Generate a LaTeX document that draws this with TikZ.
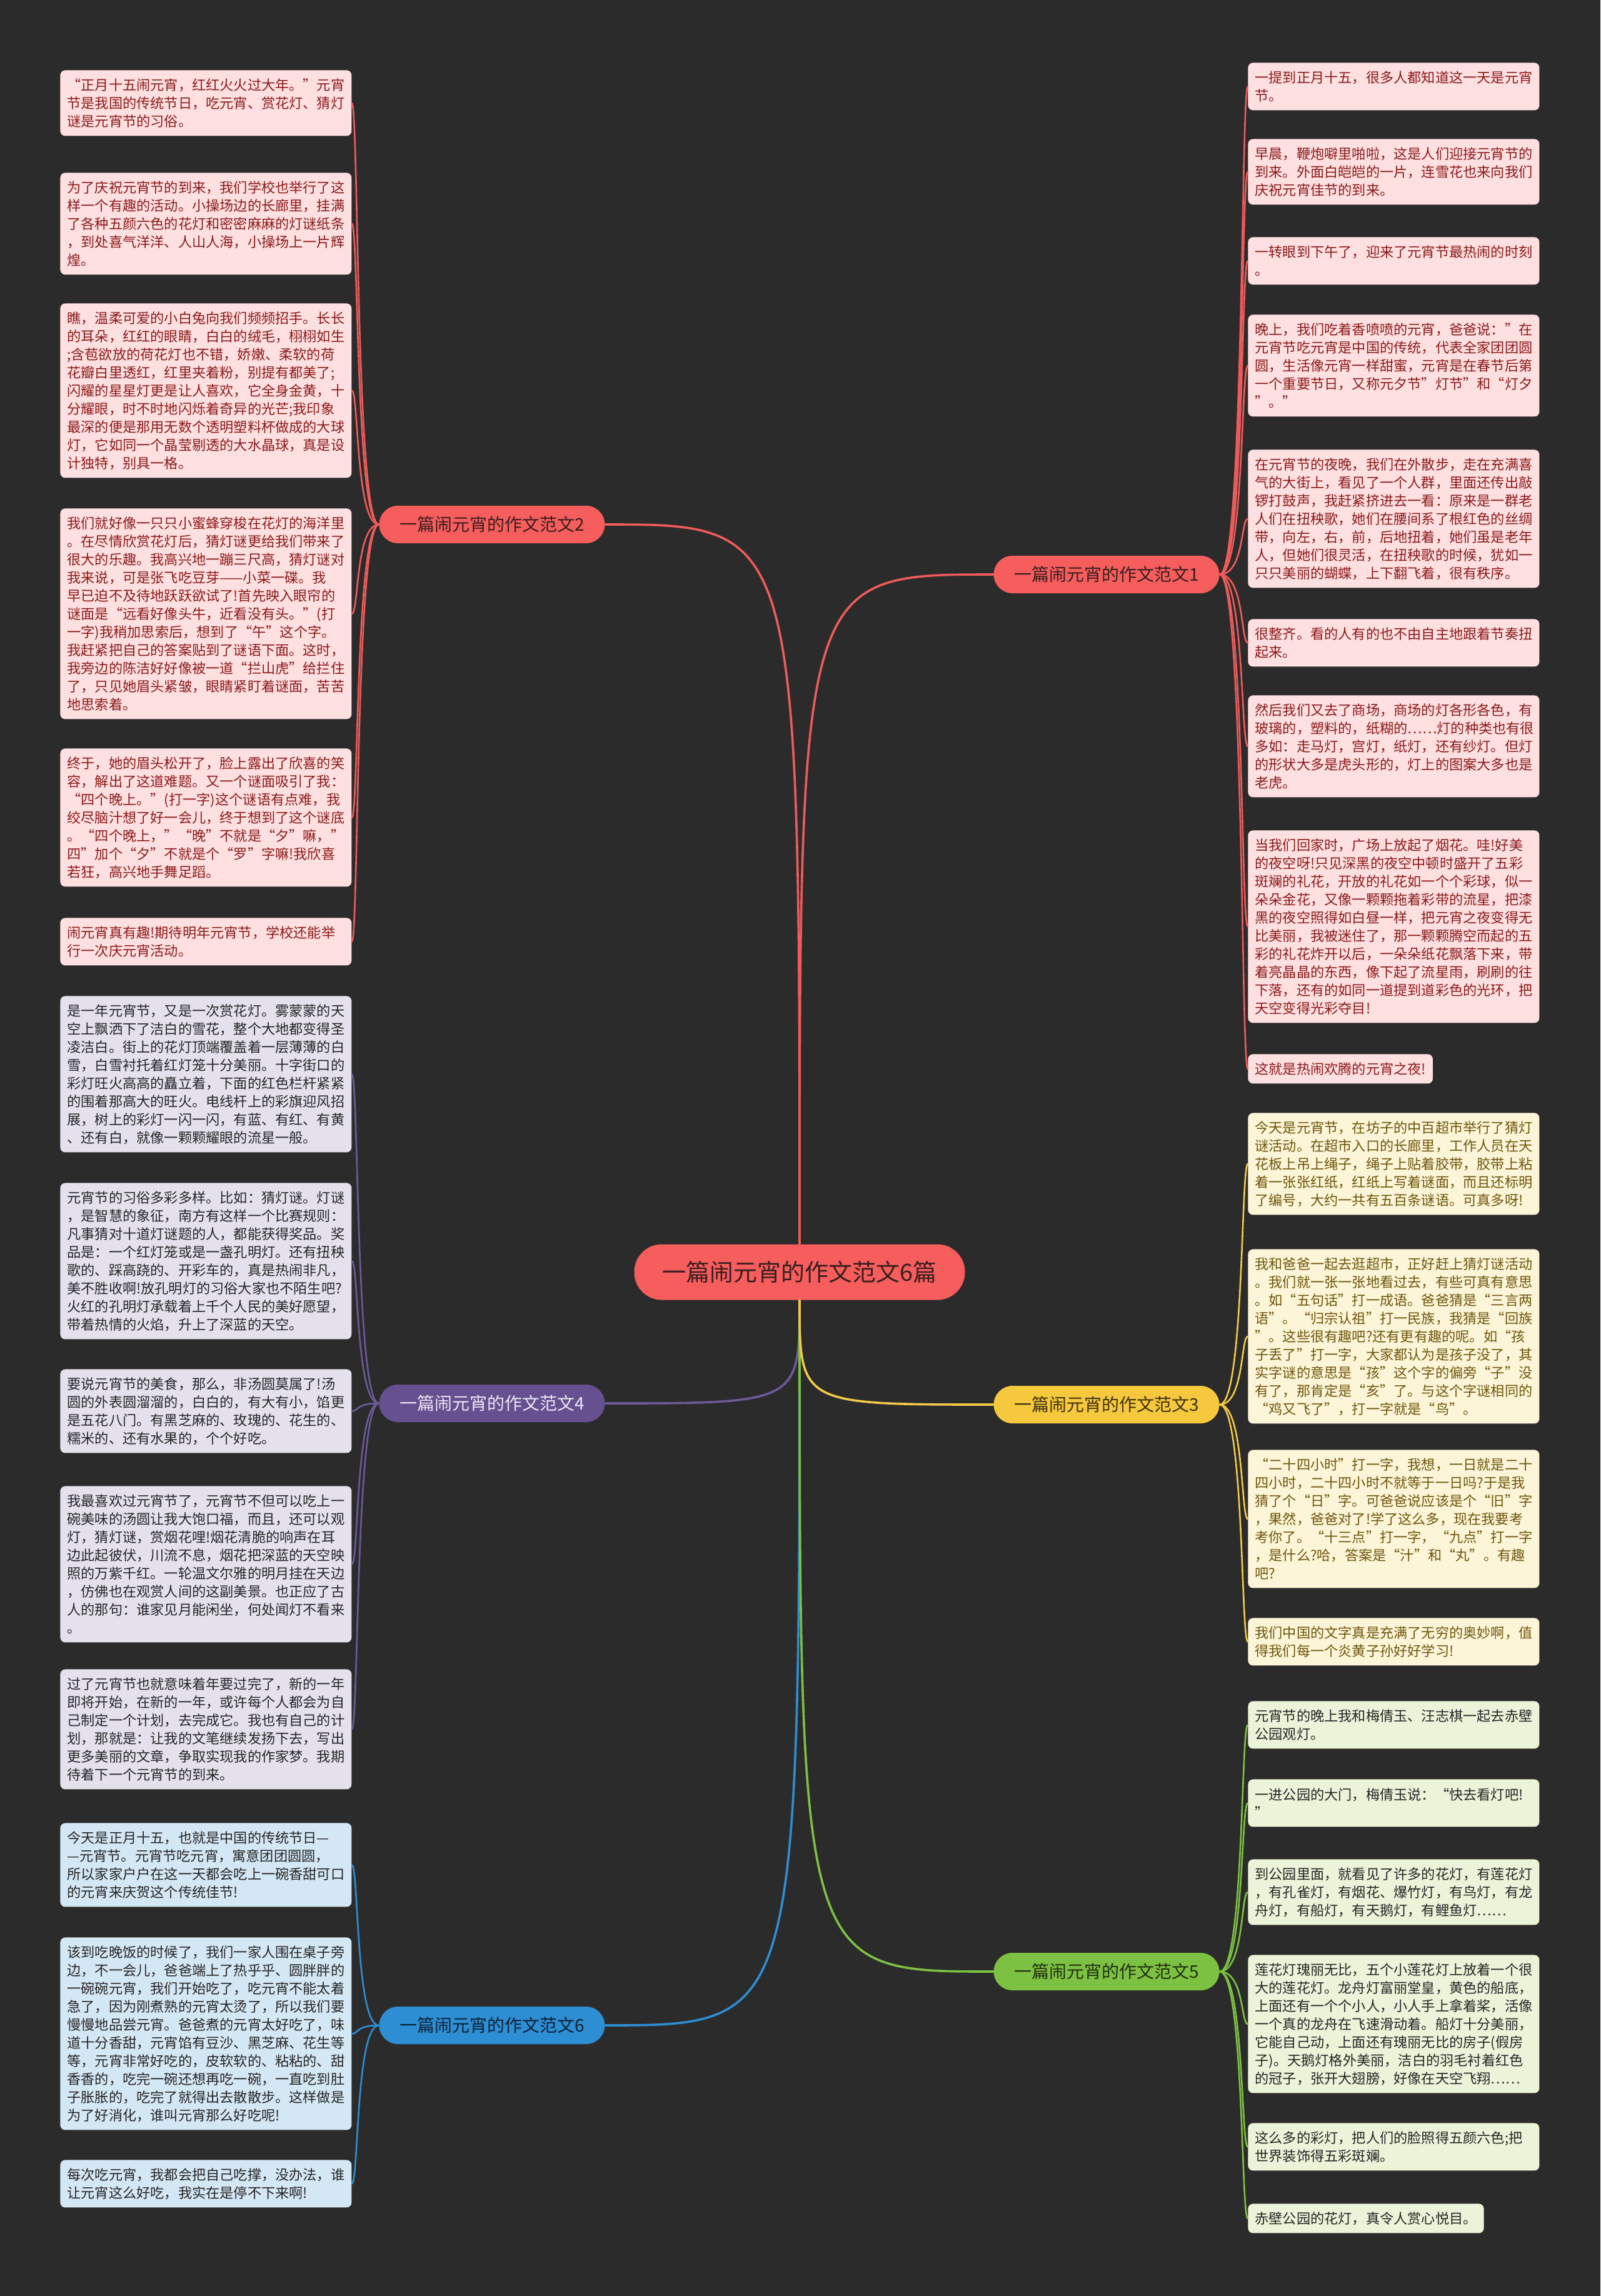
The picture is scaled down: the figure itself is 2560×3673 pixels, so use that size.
\documentclass[tikz,border=0pt]{standalone}
\usepackage{fontspec}
\setmainfont{Noto Sans CJK SC}
\usetikzlibrary{calc}
\definecolor{bgc}{HTML}{2B2B2B}
\definecolor{redn}{HTML}{F65D5D}
\definecolor{redl}{HTML}{EE5B5B}
\definecolor{redt}{HTML}{3A1E1E}
\definecolor{pinkf}{HTML}{FFE0E1}
\definecolor{pinkt}{HTML}{8B1A1A}
\definecolor{yeln}{HTML}{F6C83E}
\definecolor{yell}{HTML}{F2C94A}
\definecolor{yelt}{HTML}{3F320A}
\definecolor{creamf}{HTML}{FDF5D7}
\definecolor{creamt}{HTML}{6E560E}
\definecolor{grnn}{HTML}{7DC142}
\definecolor{grnl}{HTML}{7DC142}
\definecolor{grnt}{HTML}{22300F}
\definecolor{grnf}{HTML}{EBF3D8}
\definecolor{purn}{HTML}{66508F}
\definecolor{purl}{HTML}{6C5A99}
\definecolor{purt}{HTML}{ECE6F6}
\definecolor{lavf}{HTML}{E4E1ED}
\definecolor{blun}{HTML}{2D8ED4}
\definecolor{blul}{HTML}{2D8ED4}
\definecolor{blut}{HTML}{0E2238}
\definecolor{bluf}{HTML}{D4E7F4}
\definecolor{darkt}{HTML}{262626}
\tikzset{
  rootnode/.style={fill=redn, text=redt, rounded corners=22pt, minimum width=264.5pt,
    minimum height=44.5pt, inner sep=0pt, font=\fontsize{19}{22}\selectfont},
  branchnode/.style={rounded corners=15pt, minimum width=180.5pt, minimum height=30pt,
    inner sep=0pt, font=\fontsize{14}{16}\selectfont},
  leafbase/.style={rounded corners=4pt, inner xsep=5.5pt, inner ysep=0pt, align=left,
    font=\fontsize{11.1}{14.5}\selectfont, anchor=north west},
  lf/.style={leafbase, text width=222pt, minimum height={(29*#1+18)*0.5pt}},
  lfn/.style={leafbase, minimum height={(29*#1+18)*0.5pt}},
  pinkbox/.style={fill=pinkf, text=pinkt},
  lavbox/.style={fill=lavf, text=darkt},
  blubox/.style={fill=bluf, text=darkt},
  crmbox/.style={fill=creamf, text=creamt},
  grnbox/.style={fill=grnf, text=darkt},
  mainlink/.style={line width=1.8pt, line cap=round},
  leaflink/.style={line width=1.3pt, line cap=round}
}
\begin{document}
\begin{tikzpicture}[x=0.5pt,y=-0.5pt]
\useasboundingbox (0,0) rectangle (2560,3673);
\fill[bgc] (0,0) rectangle (2560,3673);

% root and branches
\node[rootnode] (c) at (1279,2035) {一篇闹元宵的作文范文6篇};
\node[branchnode, fill=redn, text=redt] (b1) at (1770,919) {一篇闹元宵的作文范文1};
\node[branchnode, fill=redn, text=redt] (b2) at (787,839) {一篇闹元宵的作文范文2};
\node[branchnode, fill=yeln, text=yelt] (b3) at (1770,2247) {一篇闹元宵的作文范文3};
\node[branchnode, fill=purn, text=purt] (b4) at (787,2245) {一篇闹元宵的作文范文4};
\node[branchnode, fill=grnn, text=grnt] (b5) at (1770,3154) {一篇闹元宵的作文范文5};
\node[branchnode, fill=blun, text=blut] (b6) at (787,3240) {一篇闹元宵的作文范文6};

\draw[mainlink, redl] (c.north) .. controls (c.north |- b1.west) and (c.north |- b1.west) .. (b1.west);
\draw[mainlink, redl] (c.north) .. controls (c.north |- b2.east) and (c.north |- b2.east) .. (b2.east);
\draw[mainlink, purl] (c.south) .. controls (c.south |- b4.east) and (c.south |- b4.east) .. (b4.east);
\draw[mainlink, blul] (c.south) .. controls (c.south |- b6.east) and (c.south |- b6.east) .. (b6.east);
\draw[mainlink, grnl] (c.south) .. controls (c.south |- b5.west) and (c.south |- b5.west) .. (b5.west);
\draw[mainlink, yell] (c.south) .. controls (c.south |- b3.west) and (c.south |- b3.west) .. (b3.west);

% ---------- left: branch 2 ----------
\node[lf=3, pinkbox] (l1) at (96,112) {“正月十五闹元宵，红红火火过大年。”元宵\\节是我国的传统节日，吃元宵、赏花灯、猜灯\\谜是元宵节的习俗。};
\node[lf=5, pinkbox] (l2) at (96,276) {为了庆祝元宵节的到来，我们学校也举行了这\\样一个有趣的活动。小操场边的长廊里，挂满\\了各种五颜六色的花灯和密密麻麻的灯谜纸条\\，到处喜气洋洋、人山人海，小操场上一片辉\\煌。};
\node[lf=9, pinkbox] (l3) at (96,485) {瞧，温柔可爱的小白兔向我们频频招手。长长\\的耳朵，红红的眼睛，白白的绒毛，栩栩如生\\;含苞欲放的荷花灯也不错，娇嫩、柔软的荷\\花瓣白里透红，红里夹着粉，别提有都美了;\\闪耀的星星灯更是让人喜欢，它全身金黄，十\\分耀眼，时不时地闪烁着奇异的光芒;我印象\\最深的便是那用无数个透明塑料杯做成的大球\\灯，它如同一个晶莹剔透的大水晶球，真是设\\计独特，别具一格。};
\node[lf=11, pinkbox] (l4) at (96,813) {我们就好像一只只小蜜蜂穿梭在花灯的海洋里\\。在尽情欣赏花灯后，猜灯谜更给我们带来了\\很大的乐趣。我高兴地一蹦三尺高，猜灯谜对\\我来说，可是张飞吃豆芽——小菜一碟。我\\早已迫不及待地跃跃欲试了!首先映入眼帘的\\谜面是“远看好像头牛，近看没有头。”(打\\一字)我稍加思索后，想到了“午”这个字。\\我赶紧把自己的答案贴到了谜语下面。这时，\\我旁边的陈洁好好像被一道“拦山虎”给拦住\\了，只见她眉头紧皱，眼睛紧盯着谜面，苦苦\\地思索着。};
\node[lf=7, pinkbox] (l5) at (96,1197) {终于，她的眉头松开了，脸上露出了欣喜的笑\\容，解出了这道难题。又一个谜面吸引了我：\\“四个晚上。”(打一字)这个谜语有点难，我\\绞尽脑汁想了好一会儿，终于想到了这个谜底\\。“四个晚上，”“晚”不就是“夕”嘛，”\\四”加个“夕”不就是个“罗”字嘛!我欣喜\\若狂，高兴地手舞足蹈。};
\node[lf=2, pinkbox] (l6) at (96,1468) {闹元宵真有趣!期待明年元宵节，学校还能举\\行一次庆元宵活动。};

% ---------- left: branch 4 ----------
\node[lf=8, lavbox] (l7) at (96,1593) {是一年元宵节，又是一次赏花灯。雾蒙蒙的天\\空上飘洒下了洁白的雪花，整个大地都变得圣\\凌洁白。街上的花灯顶端覆盖着一层薄薄的白\\雪，白雪衬托着红灯笼十分美丽。十字街口的\\彩灯旺火高高的矗立着，下面的红色栏杆紧紧\\的围着那高大的旺火。电线杆上的彩旗迎风招\\展，树上的彩灯一闪一闪，有蓝、有红、有黄\\、还有白，就像一颗颗耀眼的流星一般。};
\node[lf=8, lavbox] (l8) at (96,1892) {元宵节的习俗多彩多样。比如：猜灯谜。灯谜\\，是智慧的象征，南方有这样一个比赛规则：\\凡事猜对十道灯谜题的人，都能获得奖品。奖\\品是：一个红灯笼或是一盏孔明灯。还有扭秧\\歌的、踩高跷的、开彩车的，真是热闹非凡，\\美不胜收啊!放孔明灯的习俗大家也不陌生吧?\\火红的孔明灯承载着上千个人民的美好愿望，\\带着热情的火焰，升上了深蓝的天空。};
\node[lf=4, lavbox] (l9) at (96,2190) {要说元宵节的美食，那么，非汤圆莫属了!汤\\圆的外表圆溜溜的，白白的，有大有小，馅更\\是五花八门。有黑芝麻的、玫瑰的、花生的、\\糯米的、还有水果的，个个好吃。};
\node[lf=8, lavbox] (l10) at (96,2377) {我最喜欢过元宵节了，元宵节不但可以吃上一\\碗美味的汤圆让我大饱口福，而且，还可以观\\灯，猜灯谜，赏烟花哩!烟花清脆的响声在耳\\边此起彼伏，川流不息，烟花把深蓝的天空映\\照的万紫千红。一轮温文尔雅的明月挂在天边\\，仿佛也在观赏人间的这副美景。也正应了古\\人的那句：谁家见月能闲坐，何处闻灯不看来\\。};
\node[lf=6, lavbox] (l11) at (96,2670) {过了元宵节也就意味着年要过完了，新的一年\\即将开始，在新的一年，或许每个人都会为自\\己制定一个计划，去完成它。我也有自己的计\\划，那就是：让我的文笔继续发扬下去，写出\\更多美丽的文章，争取实现我的作家梦。我期\\待着下一个元宵节的到来。};

% ---------- left: branch 6 ----------
\node[lf=4, blubox] (l12) at (96,2916) {今天是正月十五，也就是中国的传统节日—\\—元宵节。元宵节吃元宵，寓意团团圆圆，\\所以家家户户在这一天都会吃上一碗香甜可口\\的元宵来庆贺这个传统佳节!};
\node[lf=10, blubox] (l13) at (96,3099) {该到吃晚饭的时候了，我们一家人围在桌子旁\\边，不一会儿，爸爸端上了热乎乎、圆胖胖的\\一碗碗元宵，我们开始吃了，吃元宵不能太着\\急了，因为刚煮熟的元宵太烫了，所以我们要\\慢慢地品尝元宵。爸爸煮的元宵太好吃了，味\\道十分香甜，元宵馅有豆沙、黑芝麻、花生等\\等，元宵非常好吃的，皮软软的、粘粘的、甜\\香香的，吃完一碗还想再吃一碗，一直吃到肚\\子胀胀的，吃完了就得出去散散步。这样做是\\为了好消化，谁叫元宵那么好吃呢!};
\node[lf=2, blubox] (l14) at (96,3455) {每次吃元宵，我都会把自己吃撑，没办法，谁\\让元宵这么好吃，我实在是停不下来啊!};

% ---------- right: branch 1 ----------
\node[lf=2, pinkbox] (r1) at (1996,100) {一提到正月十五，很多人都知道这一天是元宵\\节。};
\node[lf=3, pinkbox] (r2) at (1996,222) {早晨，鞭炮噼里啪啦，这是人们迎接元宵节的\\到来。外面白皑皑的一片，连雪花也来向我们\\庆祝元宵佳节的到来。};
\node[lf=2, pinkbox] (r3) at (1996,379) {一转眼到下午了，迎来了元宵节最热闹的时刻\\。};
\node[lf=5, pinkbox] (r4) at (1996,503) {晚上，我们吃着香喷喷的元宵，爸爸说："在\\元宵节吃元宵是中国的传统，代表全家团团圆\\圆，生活像元宵一样甜蜜，元宵是在春节后第\\一个重要节日，又称元夕节"灯节”和“灯夕\\”。”};
\node[lf=7, pinkbox] (r5) at (1996,719) {在元宵节的夜晚，我们在外散步，走在充满喜\\气的大街上，看见了一个人群，里面还传出敲\\锣打鼓声，我赶紧挤进去一看：原来是一群老\\人们在扭秧歌，她们在腰间系了根红色的丝绸\\带，向左，右，前，后地扭着，她们虽是老年\\人，但她们很灵活，在扭秧歌的时候，犹如一\\只只美丽的蝴蝶，上下翻飞着，很有秩序。};
\node[lf=2, pinkbox] (r6) at (1996,990) {很整齐。看的人有的也不由自主地跟着节奏扭\\起来。};
\node[lf=5, pinkbox] (r7) at (1996,1112) {然后我们又去了商场，商场的灯各形各色，有\\玻璃的，塑料的，纸糊的……灯的种类也有很\\多如：走马灯，宫灯，纸灯，还有纱灯。但灯\\的形状大多是虎头形的，灯上的图案大多也是\\老虎。};
\node[lf=10, pinkbox] (r8) at (1996,1328) {当我们回家时，广场上放起了烟花。哇!好美\\的夜空呀!只见深黑的夜空中顿时盛开了五彩\\斑斓的礼花，开放的礼花如一个个彩球，似一\\朵朵金花，又像一颗颗拖着彩带的流星，把漆\\黑的夜空照得如白昼一样，把元宵之夜变得无\\比美丽，我被迷住了，那一颗颗腾空而起的五\\彩的礼花炸开以后，一朵朵纸花飘落下来，带\\着亮晶晶的东西，像下起了流星雨，刷刷的往\\下落，还有的如同一道提到道彩色的光环，把\\天空变得光彩夺目!};
\node[lfn=1, pinkbox] (r9) at (1996,1686) {这就是热闹欢腾的元宵之夜!};

% ---------- right: branch 3 ----------
\node[lf=5, crmbox] (r10) at (1996,1780) {今天是元宵节，在坊子的中百超市举行了猜灯\\谜活动。在超市入口的长廊里，工作人员在天\\花板上吊上绳子，绳子上贴着胶带，胶带上粘\\着一张张红纸，红纸上写着谜面，而且还标明\\了编号，大约一共有五百条谜语。可真多呀!};
\node[lf=9, crmbox] (r11) at (1996,1998) {我和爸爸一起去逛超市，正好赶上猜灯谜活动\\。我们就一张一张地看过去，有些可真有意思\\。如“五句话”打一成语。爸爸猜是“三言两\\语”。“归宗认祖”打一民族，我猜是“回族\\”。这些很有趣吧?还有更有趣的呢。如“孩\\子丢了”打一字，大家都认为是孩子没了，其\\实字谜的意思是“孩”这个字的偏旁“子”没\\有了，那肯定是“亥”了。与这个字谜相同的\\“鸡又飞了”，打一字就是“鸟”。};
\node[lf=7, crmbox] (r12) at (1996,2319) {“二十四小时”打一字，我想，一日就是二十\\四小时，二十四小时不就等于一日吗?于是我\\猜了个“日”字。可爸爸说应该是个“旧”字\\，果然，爸爸对了!学了这么多，现在我要考\\考你了。“十三点”打一字，“九点”打一字\\，是什么?哈，答案是“汁”和“丸”。有趣\\吧?};
\node[lf=2, crmbox] (r13) at (1996,2588) {我们中国的文字真是充满了无穷的奥妙啊，值\\得我们每一个炎黄子孙好好学习!};

% ---------- right: branch 5 ----------
\node[lf=2, grnbox] (r14) at (1996,2721) {元宵节的晚上我和梅倩玉、汪志棋一起去赤壁\\公园观灯。};
\node[lf=2, grnbox] (r15) at (1996,2846) {一进公园的大门，梅倩玉说：“快去看灯吧!\\”};
\node[lf=3, grnbox] (r16) at (1996,2974) {到公园里面，就看见了许多的花灯，有莲花灯\\，有孔雀灯，有烟花、爆竹灯，有鸟灯，有龙\\舟灯，有船灯，有天鹅灯，有鲤鱼灯……};
\node[lf=7, grnbox] (r17) at (1996,3127) {莲花灯瑰丽无比，五个小莲花灯上放着一个很\\大的莲花灯。龙舟灯富丽堂皇，黄色的船底，\\上面还有一个个小人，小人手上拿着桨，活像\\一个真的龙舟在飞速滑动着。船灯十分美丽，\\它能自己动，上面还有瑰丽无比的房子(假房\\子)。天鹅灯格外美丽，洁白的羽毛衬着红色\\的冠子，张开大翅膀，好像在天空飞翔……};
\node[lf=2, grnbox] (r18) at (1996,3396) {这么多的彩灯，把人们的脸照得五颜六色;把\\世界装饰得五彩斑斓。};
\node[lfn=1, grnbox] (r19) at (1996,3525) {赤壁公园的花灯，真令人赏心悦目。};

% ---------- leaf connectors ----------
\foreach \t in {r1,r2,r3,r4,r5,r6,r7,r8,r9}
  \draw[leaflink, redl] (b1.east) .. controls ($(b1.east -| \t.west)+(-6,0)$) and ($(\t.west)+(-11,0)$) .. (\t.west);
\foreach \t in {r10,r11,r12,r13}
  \draw[leaflink, yell] (b3.east) .. controls ($(b3.east -| \t.west)+(-6,0)$) and ($(\t.west)+(-11,0)$) .. (\t.west);
\foreach \t in {r14,r15,r16,r17,r18,r19}
  \draw[leaflink, grnl] (b5.east) .. controls ($(b5.east -| \t.west)+(-6,0)$) and ($(\t.west)+(-11,0)$) .. (\t.west);
\foreach \t in {l1,l2,l3,l4,l5,l6}
  \draw[leaflink, redl] (b2.west) .. controls ($(b2.west -| \t.east)+(6,0)$) and ($(\t.east)+(11,0)$) .. (\t.east);
\foreach \t in {l7,l8,l9,l10,l11}
  \draw[leaflink, purl] (b4.west) .. controls ($(b4.west -| \t.east)+(6,0)$) and ($(\t.east)+(11,0)$) .. (\t.east);
\foreach \t in {l12,l13,l14}
  \draw[leaflink, blul] (b6.west) .. controls ($(b6.west -| \t.east)+(6,0)$) and ($(\t.east)+(11,0)$) .. (\t.east);
\end{tikzpicture}
\end{document}
